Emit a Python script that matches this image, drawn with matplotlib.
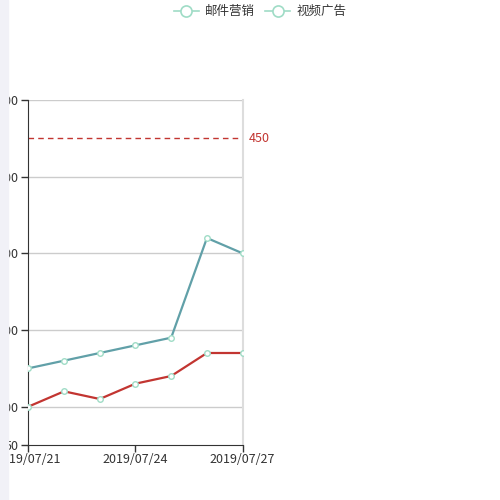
import matplotlib.pyplot as plt
from matplotlib.lines import Line2D
from matplotlib.patches import Rectangle

plt.rcParams['font.family'] = ['Noto Sans CJK SC', 'DejaVu Sans']

# data
dates = ['2019/07/21', '2019/07/22', '2019/07/23', '2019/07/24',
         '2019/07/25', '2019/07/26', '2019/07/27']
email = [100, 120, 110, 130, 140, 170, 170]
video = [150, 160, 170, 180, 190, 320, 300]
series_names = ['邮件营销', '视频广告']
y_ticks = [50, 100, 200, 300, 400, 500]
mark_value = 450

red = '#c23531'
teal = '#61a0a8'
mint = '#9fdcc6'
txt = '#333333'

fig = plt.figure(figsize=(5, 5), dpi=100)
ax = fig.add_axes([0.0566, 0.11, 0.4287, 0.69])

x = list(range(len(dates)))
ax.plot(x, video, color=teal, lw=1.6, marker='o', ms=4, mfc='white',
        mec=mint, mew=1, zorder=3)
ax.plot(x, email, color=red, lw=1.6, marker='o', ms=4, mfc='white',
        mec=mint, mew=1, zorder=4)

# mark line
ax.axhline(mark_value, color=red, lw=1, ls=(0, (4, 3)), zorder=2)
ax.text(len(dates) - 1 + 0.16, mark_value, str(mark_value), color=red,
        fontsize=9, va='center', ha='left', clip_on=False)

ax.set_xlim(0, len(dates) - 1)
ax.set_ylim(50, 500)
ax.set_yticks(y_ticks)
ax.set_yticklabels([str(v) for v in y_ticks])
ax.set_xticks([0, 3, 6])
ax.set_xticklabels([dates[0], dates[3], dates[6]])
ax.tick_params(axis='both', labelsize=9, colors=txt, length=5, width=1)
ax.tick_params(axis='y', pad=2)
ax.tick_params(axis='x', pad=1)

for v in y_ticks[1:]:
    ax.axhline(v, color='#cccccc', lw=1, zorder=1)

ax.spines['left'].set_color('#333333')
ax.spines['bottom'].set_color('#333333')
ax.spines['top'].set_visible(False)
ax.spines['right'].set_color('#dddddd')
ax.spines['right'].set_linewidth(1.5)

# legend
handles = [Line2D([], [], color=mint, lw=1.2, marker='o', ms=8, mfc='white',
                  mec=mint, mew=1.2) for _ in series_names]
fig.legend(handles, series_names, loc='upper center', bbox_to_anchor=(0.52, 1.012),
           ncol=2, frameon=False, fontsize=9, handlelength=2.0,
           columnspacing=0.8, handletextpad=0.5, labelcolor=txt)

# light strip at left edge
fig.patches.append(Rectangle((0, 0), 0.016, 1, transform=fig.transFigure,
                             color='#f1f1f7', zorder=10))

fig.savefig('out.png', dpi=100)
